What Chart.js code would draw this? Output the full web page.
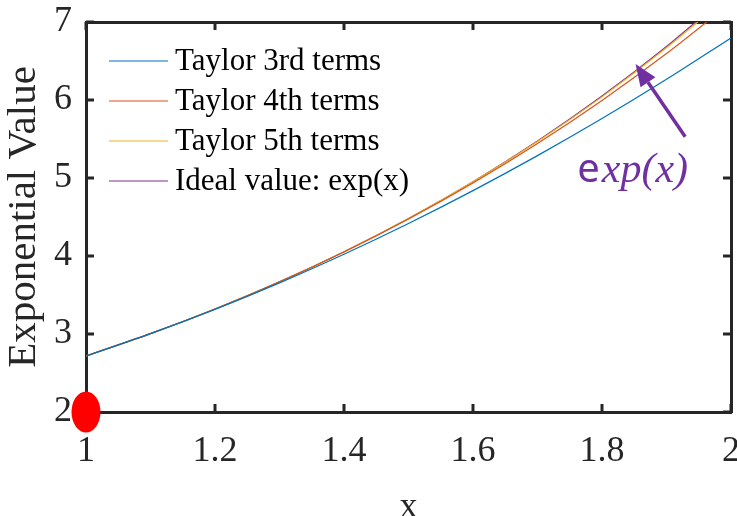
<!DOCTYPE html>
<html>
<head>
<meta charset="utf-8">
<script src="https://cdn.jsdelivr.net/npm/chart.js@4.4.1/dist/chart.umd.min.js"></script>
<style>
  html, body { margin: 0; padding: 0; background: #fff; }
  #wrap { width: 737px; height: 516px; position: relative; }
</style>
</head>
<body>
<div id="wrap"><canvas id="expChart"></canvas></div>
<script>
// values
const xs = [1.0, 1.1, 1.2, 1.3, 1.4, 1.5, 1.6, 1.7, 1.8, 1.9, 2.0];
const taylor3 = [2.718, 3.004, 3.316, 3.656, 4.023, 4.417, 4.838, 5.287, 5.762, 6.265, 6.796];
const taylor4 = [2.718, 3.004, 3.320, 3.668, 4.052, 4.474, 4.936, 5.442, 5.994, 6.595, 7.249];
const taylor5 = [2.718, 3.004, 3.320, 3.669, 4.055, 4.481, 4.951, 5.469, 6.040, 6.669, 7.362];
const idealExp = [2.718, 3.004, 3.320, 3.669, 4.055, 4.482, 4.953, 5.474, 6.050, 6.686, 7.389];

const seriesLabels = ['Taylor 3rd terms', 'Taylor 4th terms', 'Taylor 5th terms', 'Ideal value: exp(x)'];
const seriesColors = ['#0072BD', '#D95319', '#EDB120', '#7E2F8E'];

const xTicks = [1, 1.2, 1.4, 1.6, 1.8, 2];
const yTicks = [2, 3, 4, 5, 6, 7];

// red marker at the origin corner, and the annotation (data coords)
const markerPoint = { x: 1, y: 2 };
const arrowTip = { x: 1.852, y: 6.46 };
const arrowTail = { x: 1.929, y: 5.53 };
const noteAnchor = { x: 1.846, y: 4.95 };

const AXIS = '#262626';
const SERIF = '"Liberation Serif", "Times New Roman", serif';

function ellipseImage() {
  const c = document.createElement('canvas');
  c.width = 30; c.height = 42;
  const g = c.getContext('2d');
  g.fillStyle = '#FF0000';
  g.beginPath();
  g.ellipse(15, 21, 14.5, 20.5, 0, 0, Math.PI * 2);
  g.fill();
  return c;
}

function noPad(s) {
  s.paddingTop = 0; s.paddingBottom = 0;
  s.paddingLeft = 0; s.paddingRight = 0;
}

const boxTicks = {
  id: 'boxTicks',
  beforeDatasetsDraw(chart) {
    const { ctx, chartArea: a, scales } = chart;
    ctx.save();
    ctx.strokeStyle = AXIS;
    ctx.lineWidth = 3;
    ctx.beginPath();
    xTicks.forEach(v => {
      const px = scales.x.getPixelForValue(v);
      ctx.moveTo(px, a.bottom); ctx.lineTo(px, a.bottom - 8);
      ctx.moveTo(px, a.top); ctx.lineTo(px, a.top + 8);
    });
    yTicks.forEach(v => {
      const py = scales.y.getPixelForValue(v);
      ctx.moveTo(a.left, py); ctx.lineTo(a.left + 8, py);
      ctx.moveTo(a.right, py); ctx.lineTo(a.right - 8, py);
    });
    ctx.stroke();
    ctx.restore();
  }
};

const legendAndNote = {
  id: 'legendAndNote',
  afterDatasetsDraw(chart) {
    const { ctx, chartArea: a, scales } = chart;
    ctx.save();
    // legend
    ctx.font = '31px ' + SERIF;
    ctx.textBaseline = 'middle';
    ctx.textAlign = 'left';
    seriesLabels.forEach((lab, i) => {
      const y = a.top + 39 + i * 40;
      ctx.strokeStyle = seriesColors[i];
      ctx.lineWidth = 1.2;
      ctx.beginPath();
      ctx.moveTo(a.left + 23, y);
      ctx.lineTo(a.left + 82, y);
      ctx.stroke();
      ctx.fillStyle = '#000';
      ctx.fillText(lab, a.left + 89, y + 1);
    });

    // arrow
    const tx = scales.x.getPixelForValue(arrowTip.x), ty = scales.y.getPixelForValue(arrowTip.y);
    const sx = scales.x.getPixelForValue(arrowTail.x), sy = scales.y.getPixelForValue(arrowTail.y);
    const ang = Math.atan2(ty - sy, tx - sx);
    const headLen = 22, headW = 9;
    const bx = tx - headLen * Math.cos(ang), by = ty - headLen * Math.sin(ang);
    ctx.strokeStyle = '#7030A0';
    ctx.fillStyle = '#7030A0';
    ctx.lineWidth = 3.5;
    ctx.beginPath();
    ctx.moveTo(sx, sy);
    ctx.lineTo(bx, by);
    ctx.stroke();
    ctx.beginPath();
    ctx.moveTo(tx, ty);
    ctx.lineTo(bx + headW * Math.sin(ang), by - headW * Math.cos(ang));
    ctx.lineTo(bx - headW * Math.sin(ang), by + headW * Math.cos(ang));
    ctx.closePath();
    ctx.fill();

    // label: upright "e" + italic "xp(x)"
    const nx = scales.x.getPixelForValue(noteAnchor.x), ny = scales.y.getPixelForValue(noteAnchor.y);
    const fE = '40px "Noto Sans", "DejaVu Sans", sans-serif';
    const fRest = 'italic 42px ' + SERIF;
    ctx.textBaseline = 'alphabetic';
    ctx.font = fE; const wE = ctx.measureText('e').width;
    ctx.font = fRest; const wR = ctx.measureText('xp(x)').width;
    let x0 = nx - (wE + wR) / 2;
    ctx.font = fE; ctx.fillText('e', x0, ny);
    ctx.font = fRest; ctx.fillText('xp(x)', x0 + wE + 2, ny);
    ctx.restore();
  }
};

function makeLine(vals, i) {
  return {
    type: 'line',
    label: seriesLabels[i],
    data: xs.map((x, k) => ({ x, y: vals[k] })),
    borderColor: seriesColors[i],
    backgroundColor: seriesColors[i],
    borderWidth: 1.2,
    pointRadius: 0,
    cubicInterpolationMode: 'monotone',
    fill: false
  };
}

new Chart(document.getElementById('expChart'), {
  type: 'line',
  data: {
    datasets: [
      makeLine(taylor3, 0),
      makeLine(taylor4, 1),
      makeLine(taylor5, 2),
      makeLine(idealExp, 3),
      {
        type: 'scatter',
        label: 'marker',
        data: [markerPoint],
        pointStyle: ellipseImage(),
        pointRadius: 20,
        clip: false
      }
    ]
  },
  options: {
    responsive: true,
    maintainAspectRatio: false,
    animation: false,
    layout: { padding: 0, autoPadding: false },
    plugins: {
      legend: { display: false },
      tooltip: { enabled: false }
    },
    scales: {
      x: {
        type: 'linear', position: 'bottom', min: 1, max: 2,
        afterFit: s => { s.height = 104; noPad(s); },
        afterBuildTicks: s => { s.ticks = xTicks.map(v => ({ value: v })); },
        grid: { drawOnChartArea: false, drawTicks: false },
        border: { display: true, width: 3, color: AXIS },
        ticks: {
          padding: 18, color: AXIS, maxRotation: 0,
          font: { family: SERIF, size: 36 },
          callback: v => String(+v.toFixed(1))
        },
        title: {
          display: true, text: 'x', color: AXIS,
          font: { family: SERIF, size: 36, lineHeight: 0.45 },
          padding: { top: 0, bottom: 0 }
        }
      },
      x2: {
        type: 'linear', position: 'top', min: 1, max: 2,
        afterFit: s => { s.height = 22; noPad(s); },
        grid: { drawOnChartArea: false, drawTicks: false },
        border: { display: true, width: 3, color: AXIS },
        ticks: { display: false }
      },
      y: {
        type: 'linear', position: 'left', min: 2, max: 7,
        afterFit: s => { s.width = 86; noPad(s); },
        afterBuildTicks: s => { s.ticks = yTicks.map(v => ({ value: v })); },
        grid: { drawOnChartArea: false, drawTicks: false },
        border: { display: true, width: 3, color: AXIS },
        ticks: {
          padding: 14, color: AXIS,
          font: { family: SERIF, size: 36 }
        },
        title: {
          display: true, text: 'Exponential Value', color: AXIS,
          font: { family: SERIF, size: 41 },
          padding: { top: 0, bottom: 0 }
        }
      },
      y2: {
        type: 'linear', position: 'right', min: 2, max: 7,
        afterFit: s => { s.width = 6; noPad(s); },
        grid: { drawOnChartArea: false, drawTicks: false },
        border: { display: true, width: 3, color: AXIS },
        ticks: { display: false }
      }
    }
  },
  plugins: [boxTicks, legendAndNote]
});
</script>
</body>
</html>
